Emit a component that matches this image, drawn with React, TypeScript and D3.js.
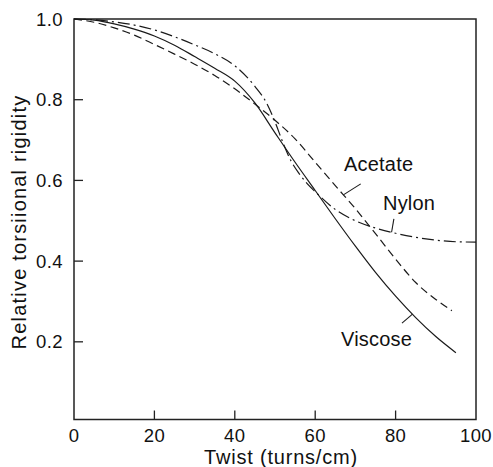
import React from 'react';
import * as d3 from 'd3';

// ---- data ----
const xTicks = [0, 20, 40, 60, 80, 100];
const yTicks = [0.2, 0.4, 0.6, 0.8, 1.0];

const viscoseX = [0, 5, 10, 15, 20, 25, 30, 35, 40, 45, 50, 55, 60, 65, 70, 75, 80, 85, 90, 95];
const viscoseY = [1.0, 0.997, 0.988, 0.975, 0.958, 0.935, 0.907, 0.878, 0.846, 0.792, 0.718, 0.645, 0.575, 0.505, 0.437, 0.372, 0.313, 0.26, 0.213, 0.173];

const acetateX = [0, 5, 10, 15, 20, 25, 30, 35, 40, 45, 50, 55, 60, 65, 70, 75, 80, 85, 90, 94];
const acetateY = [1.0, 0.992, 0.978, 0.96, 0.937, 0.913, 0.888, 0.86, 0.827, 0.789, 0.749, 0.703, 0.645, 0.587, 0.53, 0.468, 0.405, 0.347, 0.305, 0.277];

const nylonX = [0, 5, 10, 15, 20, 25, 30, 35, 40, 45, 48, 50, 52, 54, 56, 58, 60, 65, 70, 75, 80, 85, 90, 95, 100];
const nylonY = [1.0, 0.998, 0.993, 0.985, 0.973, 0.956, 0.936, 0.914, 0.884, 0.833, 0.79, 0.745, 0.693, 0.648, 0.617, 0.592, 0.572, 0.528, 0.5, 0.482, 0.469, 0.459, 0.452, 0.448, 0.447];

const seriesNames = ['Viscose', 'Acetate', 'Nylon'];
const xTitle = 'Twist (turns/cm)';
const yTitle = 'Relative torsiional rigidity';

const FONT = '"Liberation Sans", Arial, Helvetica, sans-serif';

export default function App() {
  const W = 493, H = 467;
  const left = 74, right = 476, top = 19, bottom = 419.5;
  const x = d3.scaleLinear().domain([0, 100]).range([left, right]);
  const y = d3.scaleLinear().domain([0.0075, 1]).range([bottom, top]);

  const line = d3.line<[number, number]>()
    .x(d => x(d[0]))
    .y(d => y(d[1]))
    .curve(d3.curveMonotoneX);

  const mk = (xs: number[], ys: number[]) => xs.map((v, i) => [v, ys[i]] as [number, number]);
  const series = [
    { name: seriesNames[0], pts: mk(viscoseX, viscoseY), dash: 'none' },
    { name: seriesNames[1], pts: mk(acetateX, acetateY), dash: '8,4.5' },
    { name: seriesNames[2], pts: mk(nylonX, nylonY), dash: '12,4,2,4' },
  ];

  const interp = (xs: number[], ys: number[], v: number) => {
    for (let i = 0; i < xs.length - 1; i++) {
      if (v >= xs[i] && v <= xs[i + 1]) {
        const t = (v - xs[i]) / (xs[i + 1] - xs[i]);
        return ys[i] + t * (ys[i + 1] - ys[i]);
      }
    }
    return ys[ys.length - 1];
  };

  const annots = [
    { name: seriesNames[1], ax: 67, ay: interp(acetateX, acetateY, 67), dx: 17.4, dy: -11, tx: 344, ty: 171 },
    { name: seriesNames[2], ax: 79, ay: interp(nylonX, nylonY, 79), dx: 2.3, dy: -13.4, tx: 383, ty: 209.5 },
    { name: seriesNames[0], ax: 84.2, ay: interp(viscoseX, viscoseY, 84.2), dx: -10.5, dy: 9, tx: 341, ty: 346 },
  ];

  return (
    <svg width={W} height={H} style={{ position: 'absolute', left: 0, top: 0, background: '#fff' }}
      fontFamily={FONT}>
      <rect x={0} y={0} width={W} height={H} fill="#fff" />
      {/* frame */}
      <rect x={left} y={top} width={right - left} height={bottom - top} fill="none" stroke="#222" strokeWidth={1.5} />
      {/* y ticks */}
      {yTicks.map(t => (
        <g key={'y' + t}>
          {t < 1 && <line x1={left} x2={left + 9} y1={y(t)} y2={y(t)} stroke="#222" strokeWidth={1.3} />}
          <text x={63} y={y(t)} dy="0.36em" textAnchor="end" fontSize={18.5} fill="#111" letterSpacing={0.4}>{t.toFixed(1)}</text>
        </g>
      ))}
      {/* x ticks */}
      {xTicks.map(t => (
        <g key={'x' + t}>
          {t > 0 && t < 100 && <line x1={x(t)} x2={x(t)} y1={bottom} y2={bottom - 9} stroke="#222" strokeWidth={1.3} />}
          <text x={x(t)} y={442} textAnchor="middle" fontSize={18.5} fill="#111" letterSpacing={0.4}>{t}</text>
        </g>
      ))}
      {/* curves */}
      {series.map(s => (
        <path key={s.name} d={line(s.pts) || ''} fill="none" stroke="#1a1a1a" strokeWidth={1.2}
          strokeDasharray={s.dash === 'none' ? undefined : s.dash} />
      ))}
      {/* annotations */}
      {annots.map(a => (
        <g key={'a' + a.name}>
          <line x1={x(a.ax)} y1={y(a.ay)} x2={x(a.ax) + a.dx} y2={y(a.ay) + a.dy} stroke="#1a1a1a" strokeWidth={1.1} />
          <text x={a.tx} y={a.ty} fontSize={20} fill="#111" letterSpacing={0.2}>{a.name}</text>
        </g>
      ))}
      {/* axis titles */}
      <text x={281} y={464} textAnchor="middle" fontSize={20} fill="#111" letterSpacing={0.8}>{xTitle}</text>
      <text transform="translate(26,222) rotate(-90)" textAnchor="middle" fontSize={20} fill="#111" letterSpacing={1.2}>{yTitle}</text>
    </svg>
  );
}
